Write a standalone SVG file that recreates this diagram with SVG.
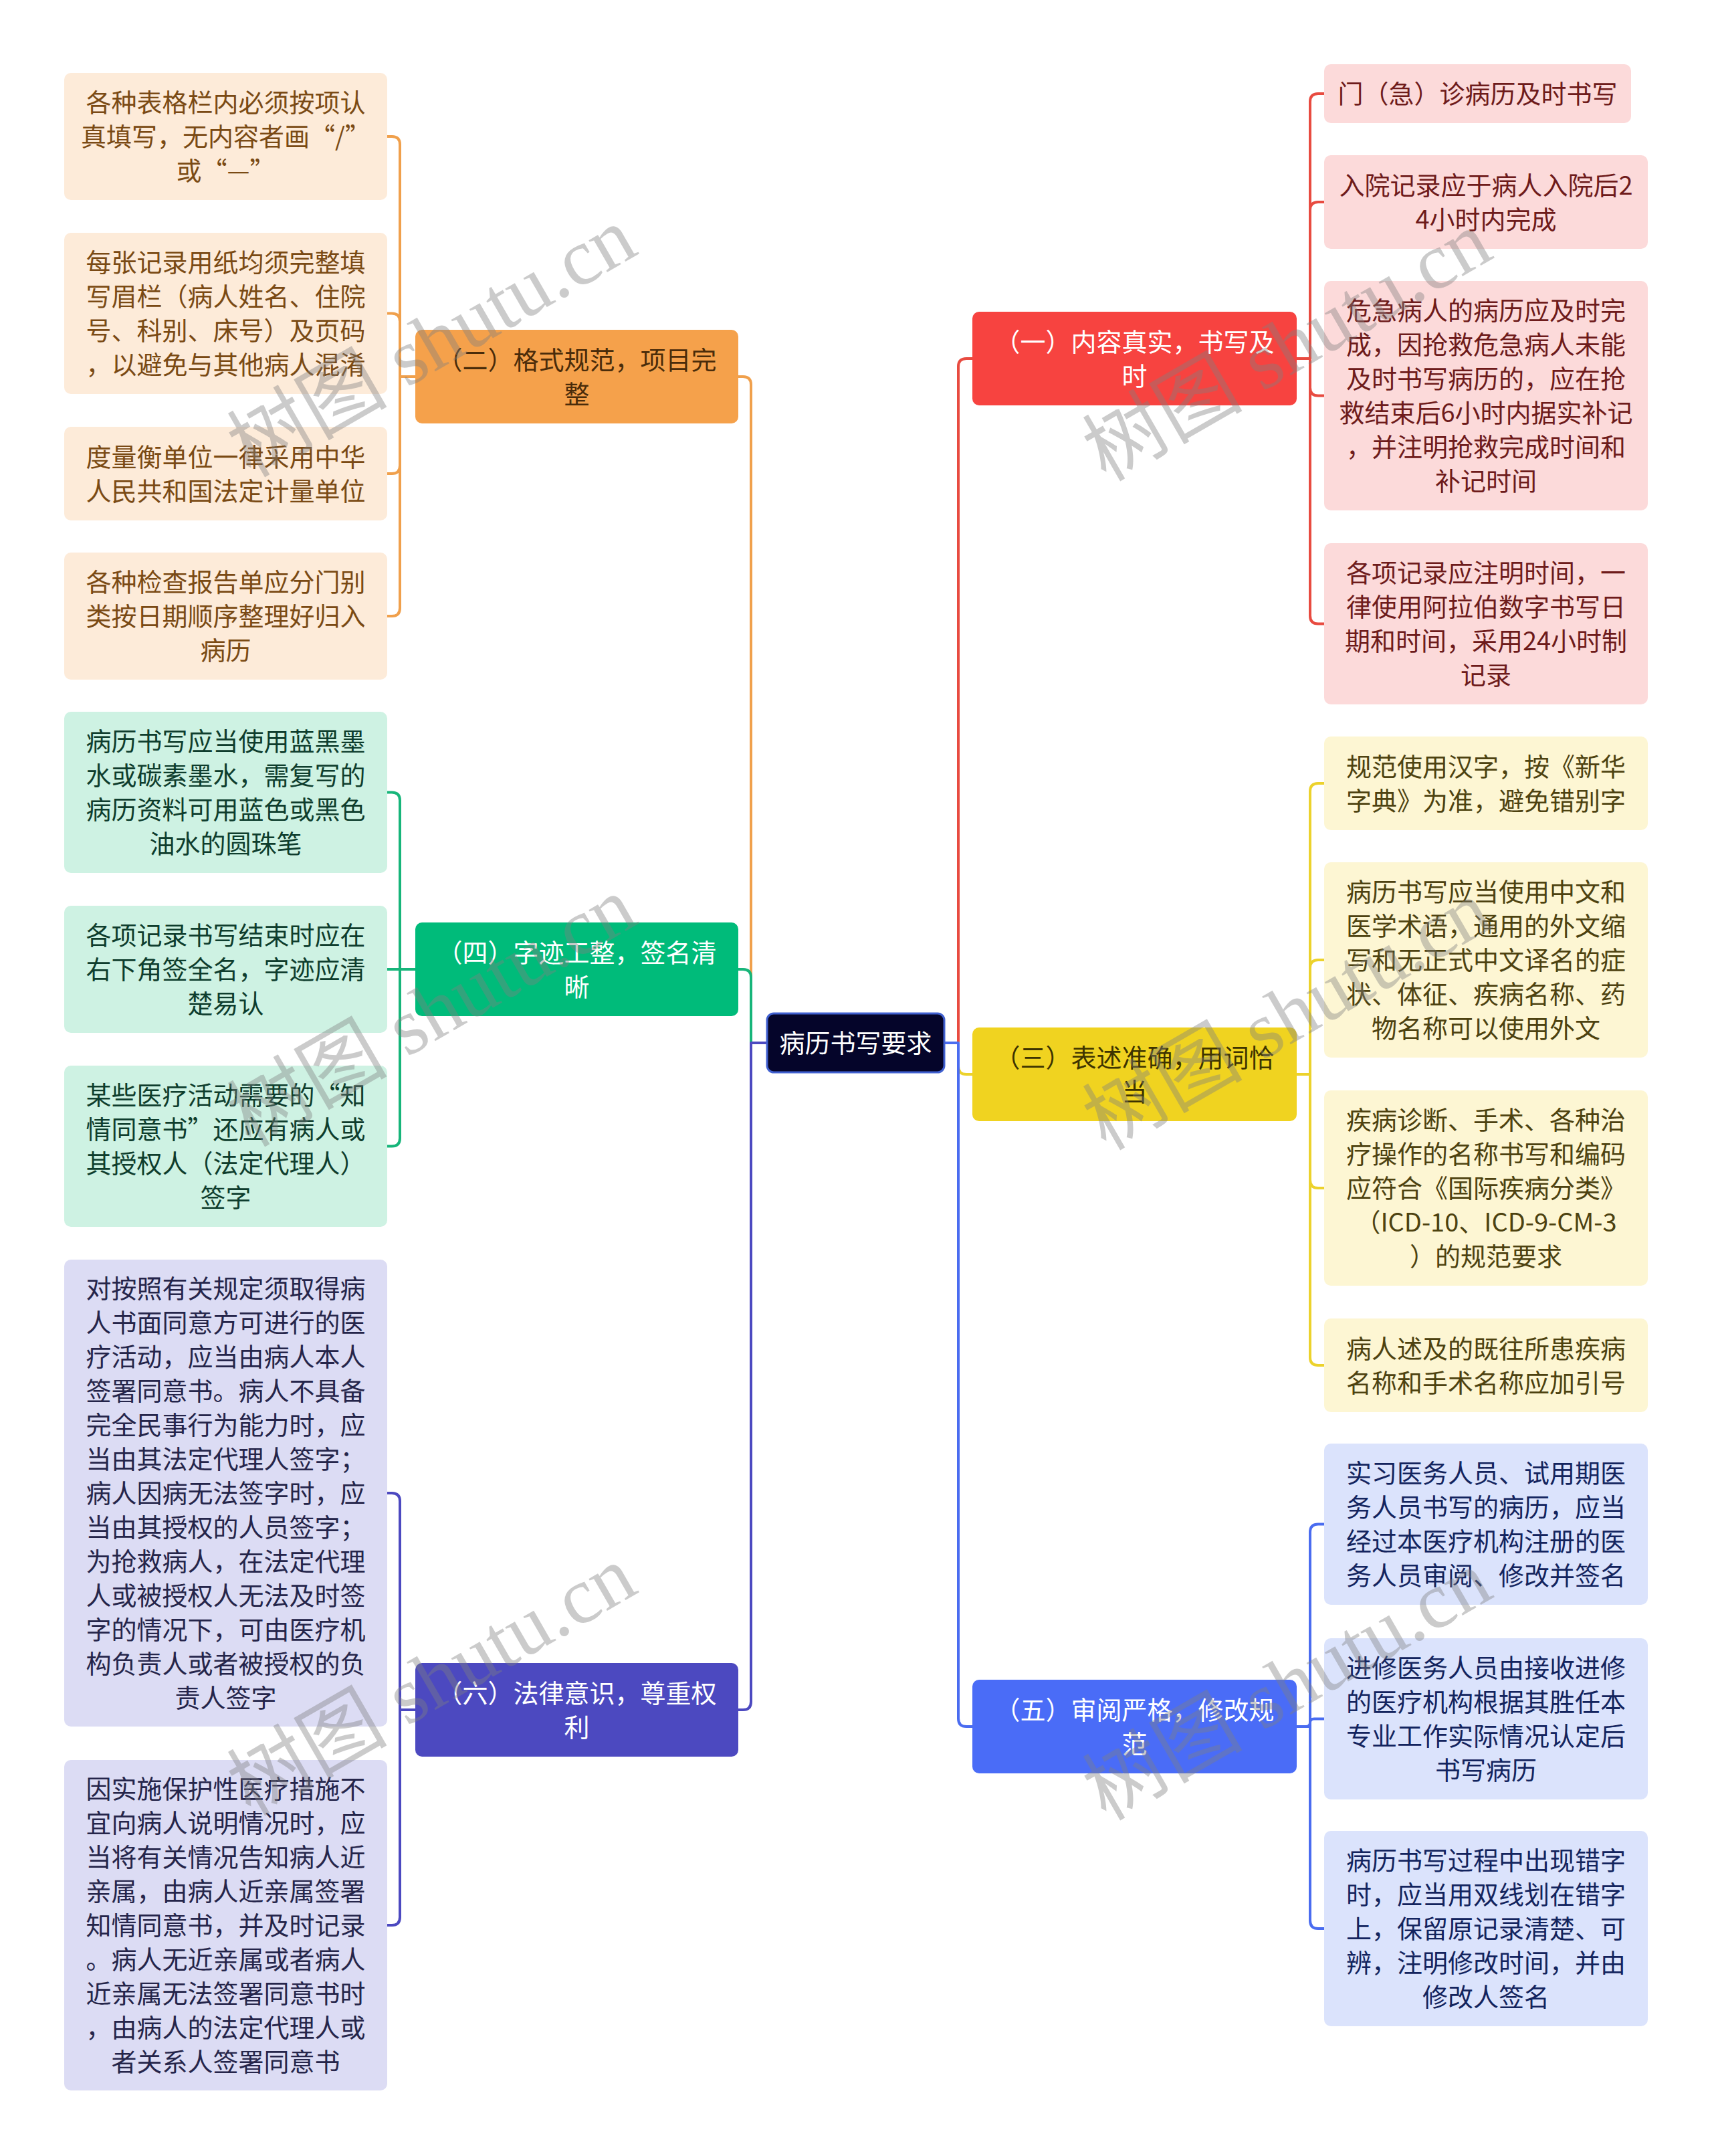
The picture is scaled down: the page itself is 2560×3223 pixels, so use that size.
<svg xmlns="http://www.w3.org/2000/svg" width="2560" height="3223" viewBox="0 0 2560 3223">
<style>
text{font-family:"Noto Sans CJK SC","Noto Sans",sans-serif;font-size:38px;text-anchor:middle}
.c path{fill:none;stroke-width:4;stroke-linejoin:round}
.lo{stroke:#f0a04c}.lr{stroke:#e84b40}.ly{stroke:#ecd22c}.lg{stroke:#17b57a}.lb{stroke:#4a6cf0}.lp{stroke:#4c49c0}
.wm{font-family:"Liberation Serif","Noto Sans CJK SC",serif;font-size:120px;fill:#808080;opacity:0.4;text-anchor:middle}
</style>
<rect width="2560" height="3223" fill="#ffffff"/>
<g class="c" id="connectors">
<path class="lo" d="M1147,1559 H1123 V575 Q1123,563 1111,563 H1104"/>
<path class="lg" d="M1147,1559 H1123 V1461 Q1123,1449 1111,1449 H1104"/>
<path class="lp" d="M1147,1559 H1123 V2544 Q1123,2556 1111,2556 H1104"/>
<path class="lr" d="M1412,1559 H1433 V548 Q1433,536 1445,536 H1454"/>
<path class="ly" d="M1412,1559 H1433 V1594 Q1433,1606 1445,1606 H1454"/>
<path class="lb" d="M1412,1559 H1433 V2569 Q1433,2581 1445,2581 H1454"/>
<path class="lo" d="M621,563 H598 V216 Q598,204 586,204 H579"/>
<path class="lo" d="M621,563 H598 V480.5 Q598,468.5 586,468.5 H579"/>
<path class="lo" d="M621,563 H598 V696 Q598,708 586,708 H579"/>
<path class="lo" d="M621,563 H598 V909 Q598,921 586,921 H579"/>
<path class="lg" d="M621,1449 H598 V1196.5 Q598,1184.5 586,1184.5 H579"/>
<path class="lg" d="M621,1449 H579"/>
<path class="lg" d="M621,1449 H598 V1701.5 Q598,1713.5 586,1713.5 H579"/>
<path class="lp" d="M621,2556 H598 V2244 Q598,2232 586,2232 H579"/>
<path class="lp" d="M621,2556 H598 V2866 Q598,2878 586,2878 H579"/>
<path class="lr" d="M1939,536 H1959 V152 Q1959,140 1971,140 H1980"/>
<path class="lr" d="M1939,536 H1959 V314 Q1959,302 1971,302 H1980"/>
<path class="lr" d="M1939,536 H1959 V579.5 Q1959,591.5 1971,591.5 H1980"/>
<path class="lr" d="M1939,536 H1959 V920.5 Q1959,932.5 1971,932.5 H1980"/>
<path class="ly" d="M1939,1606 H1959 V1183 Q1959,1171 1971,1171 H1980"/>
<path class="ly" d="M1939,1606 H1959 V1447 Q1959,1435 1971,1435 H1980"/>
<path class="ly" d="M1939,1606 H1959 V1764 Q1959,1776 1971,1776 H1980"/>
<path class="ly" d="M1939,1606 H1959 V2029 Q1959,2041 1971,2041 H1980"/>
<path class="lb" d="M1939,2581 H1959 V2290.5 Q1959,2278.5 1971,2278.5 H1980"/>
<path class="lb" d="M1939,2581 H1953 Q1959,2581 1959,2575 Q1959,2569.5 1965,2569.5 H1980"/>
<path class="lb" d="M1939,2581 H1959 V2871 Q1959,2883 1971,2883 H1980"/>
</g>
<g id="root">
<rect x="1147" y="1515" width="265" height="88" rx="10" fill="#05052a" stroke="#4060d0" stroke-width="3"/>
<text x="1279.5" y="1573" fill="#ffffff">病历书写要求</text>
</g>
<g id="n1">
<rect x="1454" y="466" width="485" height="140" rx="10" fill="#f74340"/>
<text fill="#ffffff"><tspan x="1696.5" y="524.5">（一）内容真实，书写及</tspan><tspan x="1696.5" y="575.5">时</tspan></text>
</g>
<g id="n1-1"><rect x="1980" y="96" width="459" height="88" rx="10" fill="#fcdada"/>
<text fill="#6e1b1b"><tspan x="2209.5" y="154">门（急）诊病历及时书写</tspan></text></g>
<g id="n1-2"><rect x="1980" y="232" width="484" height="140" rx="10" fill="#fcdada"/>
<text fill="#6e1b1b"><tspan x="2222" y="290.5">入院记录应于病人入院后2</tspan><tspan x="2222" y="341.5">4小时内完成</tspan></text></g>
<g id="n1-3"><rect x="1980" y="420" width="484" height="343" rx="10" fill="#fcdada"/>
<text fill="#6e1b1b"><tspan x="2222" y="478">危急病人的病历应及时完</tspan><tspan x="2222" y="529">成，因抢救危急病人未能</tspan><tspan x="2222" y="580">及时书写病历的，应在抢</tspan><tspan x="2222" y="631">救结束后6小时内据实补记</tspan><tspan x="2222" y="682">，并注明抢救完成时间和</tspan><tspan x="2222" y="733">补记时间</tspan></text></g>
<g id="n1-4"><rect x="1980" y="812" width="484" height="241" rx="10" fill="#fcdada"/>
<text fill="#6e1b1b"><tspan x="2222" y="870">各项记录应注明时间，一</tspan><tspan x="2222" y="921">律使用阿拉伯数字书写日</tspan><tspan x="2222" y="972">期和时间，采用24小时制</tspan><tspan x="2222" y="1023">记录</tspan></text></g>
<g id="n2">
<rect x="621" y="493" width="483" height="140" rx="10" fill="#f5a14b"/>
<text fill="#4a2c0a"><tspan x="862.5" y="551.5">（二）格式规范，项目完</tspan><tspan x="862.5" y="602.5">整</tspan></text>
</g>
<g id="n2-1"><rect x="96" y="109" width="483" height="190" rx="10" fill="#fdebd9"/>
<text fill="#7a4a14"><tspan x="337.5" y="167">各种表格栏内必须按项认</tspan><tspan x="337.5" y="218">真填写，无内容者画“/”</tspan><tspan x="337.5" y="269">或“—”</tspan></text></g>
<g id="n2-2"><rect x="96" y="348" width="483" height="241" rx="10" fill="#fdebd9"/>
<text fill="#7a4a14"><tspan x="337.5" y="406">每张记录用纸均须完整填</tspan><tspan x="337.5" y="457">写眉栏（病人姓名、住院</tspan><tspan x="337.5" y="508">号、科别、床号）及页码</tspan><tspan x="337.5" y="559">，以避免与其他病人混淆</tspan></text></g>
<g id="n2-3"><rect x="96" y="638" width="483" height="140" rx="10" fill="#fdebd9"/>
<text fill="#7a4a14"><tspan x="337.5" y="696.5">度量衡单位一律采用中华</tspan><tspan x="337.5" y="747.5">人民共和国法定计量单位</tspan></text></g>
<g id="n2-4"><rect x="96" y="826" width="483" height="190" rx="10" fill="#fdebd9"/>
<text fill="#7a4a14"><tspan x="337.5" y="884">各种检查报告单应分门别</tspan><tspan x="337.5" y="935">类按日期顺序整理好归入</tspan><tspan x="337.5" y="986">病历</tspan></text></g>
<g id="n3">
<rect x="1454" y="1536" width="485" height="140" rx="10" fill="#f0d320"/>
<text fill="#3d3300"><tspan x="1696.5" y="1594.5">（三）表述准确，用词恰</tspan><tspan x="1696.5" y="1645.5">当</tspan></text>
</g>
<g id="n3-1"><rect x="1980" y="1101" width="484" height="140" rx="10" fill="#fdf6d3"/>
<text fill="#4d4210"><tspan x="2222" y="1159.5">规范使用汉字，按《新华</tspan><tspan x="2222" y="1210.5">字典》为准，避免错别字</tspan></text></g>
<g id="n3-2"><rect x="1980" y="1289" width="484" height="292" rx="10" fill="#fdf6d3"/>
<text fill="#4d4210"><tspan x="2222" y="1347">病历书写应当使用中文和</tspan><tspan x="2222" y="1398">医学术语，通用的外文缩</tspan><tspan x="2222" y="1449">写和无正式中文译名的症</tspan><tspan x="2222" y="1500">状、体征、疾病名称、药</tspan><tspan x="2222" y="1551">物名称可以使用外文</tspan></text></g>
<g id="n3-3"><rect x="1980" y="1630" width="484" height="292" rx="10" fill="#fdf6d3"/>
<text fill="#4d4210"><tspan x="2222" y="1688">疾病诊断、手术、各种治</tspan><tspan x="2222" y="1739">疗操作的名称书写和编码</tspan><tspan x="2222" y="1790">应符合《国际疾病分类》</tspan><tspan x="2222" y="1841">（ICD-10、ICD-9-CM-3</tspan><tspan x="2222" y="1892">）的规范要求</tspan></text></g>
<g id="n3-4"><rect x="1980" y="1971" width="484" height="140" rx="10" fill="#fdf6d3"/>
<text fill="#4d4210"><tspan x="2222" y="2029.5">病人述及的既往所患疾病</tspan><tspan x="2222" y="2080.5">名称和手术名称应加引号</tspan></text></g>
<g id="n4">
<rect x="621" y="1379" width="483" height="140" rx="10" fill="#00bb7a"/>
<text fill="#ffffff"><tspan x="862.5" y="1437.5">（四）字迹工整，签名清</tspan><tspan x="862.5" y="1488.5">晰</tspan></text>
</g>
<g id="n4-1"><rect x="96" y="1064" width="483" height="241" rx="10" fill="#cef2e3"/>
<text fill="#0e3d2d"><tspan x="337.5" y="1122">病历书写应当使用蓝黑墨</tspan><tspan x="337.5" y="1173">水或碳素墨水，需复写的</tspan><tspan x="337.5" y="1224">病历资料可用蓝色或黑色</tspan><tspan x="337.5" y="1275">油水的圆珠笔</tspan></text></g>
<g id="n4-2"><rect x="96" y="1354" width="483" height="190" rx="10" fill="#cef2e3"/>
<text fill="#0e3d2d"><tspan x="337.5" y="1412">各项记录书写结束时应在</tspan><tspan x="337.5" y="1463">右下角签全名，字迹应清</tspan><tspan x="337.5" y="1514">楚易认</tspan></text></g>
<g id="n4-3"><rect x="96" y="1593" width="483" height="241" rx="10" fill="#cef2e3"/>
<text fill="#0e3d2d"><tspan x="337.5" y="1651">某些医疗活动需要的“知</tspan><tspan x="337.5" y="1702">情同意书”还应有病人或</tspan><tspan x="337.5" y="1753">其授权人（法定代理人）</tspan><tspan x="337.5" y="1804">签字</tspan></text></g>
<g id="n5">
<rect x="1454" y="2511" width="485" height="140" rx="10" fill="#4a6cf7"/>
<text fill="#ffffff"><tspan x="1696.5" y="2569.5">（五）审阅严格，修改规</tspan><tspan x="1696.5" y="2620.5">范</tspan></text>
</g>
<g id="n5-1"><rect x="1980" y="2158" width="484" height="241" rx="10" fill="#dbe3fc"/>
<text fill="#13245e"><tspan x="2222" y="2216">实习医务人员、试用期医</tspan><tspan x="2222" y="2267">务人员书写的病历，应当</tspan><tspan x="2222" y="2318">经过本医疗机构注册的医</tspan><tspan x="2222" y="2369">务人员审阅、修改并签名</tspan></text></g>
<g id="n5-2"><rect x="1980" y="2449" width="484" height="241" rx="10" fill="#dbe3fc"/>
<text fill="#13245e"><tspan x="2222" y="2507">进修医务人员由接收进修</tspan><tspan x="2222" y="2558">的医疗机构根据其胜任本</tspan><tspan x="2222" y="2609">专业工作实际情况认定后</tspan><tspan x="2222" y="2660">书写病历</tspan></text></g>
<g id="n5-3"><rect x="1980" y="2737" width="484" height="292" rx="10" fill="#dbe3fc"/>
<text fill="#13245e"><tspan x="2222" y="2795">病历书写过程中出现错字</tspan><tspan x="2222" y="2846">时，应当用双线划在错字</tspan><tspan x="2222" y="2897">上，保留原记录清楚、可</tspan><tspan x="2222" y="2948">辨，注明修改时间，并由</tspan><tspan x="2222" y="2999">修改人签名</tspan></text></g>
<g id="n6">
<rect x="621" y="2486" width="483" height="140" rx="10" fill="#4c49c0"/>
<text fill="#ffffff"><tspan x="862.5" y="2544.5">（六）法律意识，尊重权</tspan><tspan x="862.5" y="2595.5">利</tspan></text>
</g>
<g id="n6-1"><rect x="96" y="1883" width="483" height="698" rx="10" fill="#dcdcf4"/>
<text fill="#25254a"><tspan x="337.5" y="1940">对按照有关规定须取得病</tspan><tspan x="337.5" y="1991">人书面同意方可进行的医</tspan><tspan x="337.5" y="2042">疗活动，应当由病人本人</tspan><tspan x="337.5" y="2093">签署同意书。病人不具备</tspan><tspan x="337.5" y="2144">完全民事行为能力时，应</tspan><tspan x="337.5" y="2195">当由其法定代理人签字；</tspan><tspan x="337.5" y="2246">病人因病无法签字时，应</tspan><tspan x="337.5" y="2297">当由其授权的人员签字；</tspan><tspan x="337.5" y="2348">为抢救病人，在法定代理</tspan><tspan x="337.5" y="2399">人或被授权人无法及时签</tspan><tspan x="337.5" y="2450">字的情况下，可由医疗机</tspan><tspan x="337.5" y="2501">构负责人或者被授权的负</tspan><tspan x="337.5" y="2552">责人签字</tspan></text></g>
<g id="n6-2"><rect x="96" y="2631" width="483" height="494" rx="10" fill="#dcdcf4"/>
<text fill="#25254a"><tspan x="337.5" y="2688">因实施保护性医疗措施不</tspan><tspan x="337.5" y="2739">宜向病人说明情况时，应</tspan><tspan x="337.5" y="2790">当将有关情况告知病人近</tspan><tspan x="337.5" y="2841">亲属，由病人近亲属签署</tspan><tspan x="337.5" y="2892">知情同意书，并及时记录</tspan><tspan x="337.5" y="2943">。病人无近亲属或者病人</tspan><tspan x="337.5" y="2994">近亲属无法签署同意书时</tspan><tspan x="337.5" y="3045">，由病人的法定代理人或</tspan><tspan x="337.5" y="3096">者关系人签署同意书</tspan></text></g>
<g id="watermarks">
<text class="wm" transform="translate(646,512) rotate(-30)" y="40">树图 shutu.cn</text>
<text class="wm" transform="translate(1925,518) rotate(-30)" y="40">树图 shutu.cn</text>
<text class="wm" transform="translate(646,1513) rotate(-30)" y="40">树图 shutu.cn</text>
<text class="wm" transform="translate(1925,1518) rotate(-30)" y="40">树图 shutu.cn</text>
<text class="wm" transform="translate(646,2513) rotate(-30)" y="40">树图 shutu.cn</text>
<text class="wm" transform="translate(1925,2520) rotate(-30)" y="40">树图 shutu.cn</text>
</g>
</svg>
